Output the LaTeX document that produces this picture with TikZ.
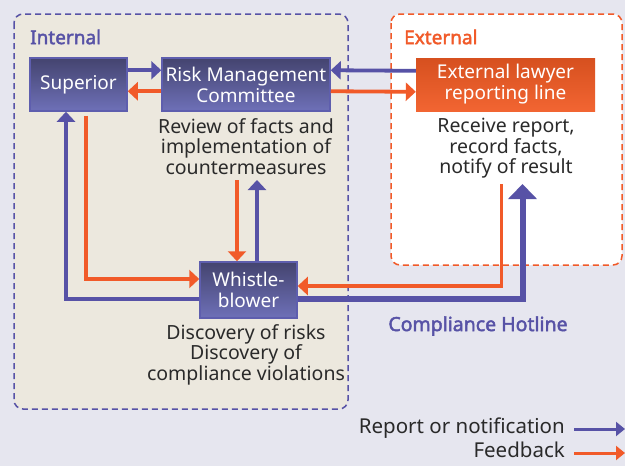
\documentclass[tikz,border=0pt]{standalone}
\usepackage{fontspec}
\setmainfont{Noto Sans}
\newfontfamily\lblfont{Noto Sans}[FakeBold=2.2]
\usetikzlibrary{arrows.meta,calc}
\definecolor{bg}{HTML}{E6E6EF}
\definecolor{intfill}{HTML}{ECE8DE}
\definecolor{pblue}{HTML}{5752A6}
\definecolor{porange}{HTML}{F15A29}
\definecolor{boxtop}{HTML}{44446F}
\definecolor{boxbot}{HTML}{6E70B8}
\definecolor{boxedge}{HTML}{5E5EAE}
\definecolor{extop}{HTML}{D6501F}
\definecolor{exbot}{HTML}{F26532}
\definecolor{txt}{HTML}{2A2A2A}
\tikzset{
  pbox/.style={draw=boxedge,line width=1.5pt,top color=boxtop,bottom color=boxbot,
    text=white,align=center,inner sep=0pt,font=\fontsize{19}{21}\selectfont},
  obox/.style={draw=none,top color=extop,bottom color=exbot,
    text=white,align=center,inner sep=0pt,font=\fontsize{19}{21}\selectfont},
  desc/.style={text=txt,align=center,inner sep=0pt,font=\fontsize{19.5}{20.5}\selectfont,anchor=north},
  grouplbl/.style={inner sep=0pt,anchor=west,font=\fontsize{19}{21}\lblfont},
  legtxt/.style={inner sep=0pt,anchor=east,text=txt,font=\fontsize{20.5}{22}\selectfont},
  barrow/.style={draw=pblue,line width=3.8pt,-{Triangle[width=18pt,length=10pt]}},
  oarrow/.style={draw=porange,line width=3.8pt,-{Triangle[width=18pt,length=10pt]}},
  hotarrow/.style={draw=pblue,line width=6pt,-{Triangle[width=28pt,length=15pt]}},
  region/.style={line width=1.5pt,dash pattern=on 6pt off 4pt,rounded corners=9pt},
}
\begin{document}
\begin{tikzpicture}[x=1pt,y=-1pt]
\fill[bg] (0,0) rectangle (625,466);
\useasboundingbox (0,0) rectangle (625,466);
% regions
\path[region,draw=pblue,fill=intfill] (14,14) rectangle (348,409);
\path[region,draw=porange,fill=white] (391,14) rectangle (622,265);
\node[grouplbl,text=pblue] (intl) at (30,37) {Internal};
\node[grouplbl,text=porange] (extl) at (404,37) {External};
% boxes
\node[pbox,minimum width=97pt,minimum height=53pt] (sup) at (78.5,84.5) {Superior};
\node[pbox,minimum width=168pt,minimum height=53pt] (rmc) at (246,84.5) {Risk Management\\Committee};
\node[obox,minimum width=179pt,minimum height=53pt] (law) at (505.5,84.5) {External lawyer\\reporting line};
\node[pbox,minimum width=97pt,minimum height=56pt] (wb) at (248.5,290) {Whistle-\\blower};
% descriptions
\node[desc] (rmcd) at (246,118) {Review of facts and\\implementation of\\countermeasures};
\node[desc] (lawd) at (506,118) {Receive report,\\record facts,\\notify of result};
\node[desc] (wbd) at (246,324) {Discovery of risks\\Discovery of\\compliance violations};
\node[inner sep=0pt,text=pblue,font=\fontsize{19.5}{21}\lblfont] (hot) at (478,326) {Compliance Hotline};
% horizontal arrows top
\draw[barrow] ([yshift=-13pt]sup.north east) -- ([yshift=-13pt]rmc.north west);
\draw[oarrow] ([yshift=-34pt]rmc.north west) -- ([yshift=-34pt]sup.north east);
\draw[barrow] ([yshift=-13pt]law.north west) -- ([yshift=-13pt]rmc.north east);
\draw[oarrow] ([yshift=-34pt]rmc.north east) -- ([yshift=-34pt]law.north west);
% superior <-> whistleblower
\draw[oarrow] ([xshift=7.5pt,yshift=-4pt]sup.south) |- ([yshift=11pt]wb.west);
\draw[barrow] ([yshift=-9pt]wb.west) -| ([xshift=-12.5pt]sup.south);
% rmc <-> whistleblower
\coordinate (rmcA) at (237,180);
\coordinate (rmcB) at (257,180);
\draw[oarrow] (rmcA) -- (rmcA |- wb.north);
\draw[barrow] (rmcB |- wb.north) -- (rmcB);
% external <-> whistleblower
\coordinate (lawA) at (501.5,184);
\coordinate (lawB) at (522.5,184);
\draw[oarrow] (lawA) |- ([yshift=4pt]wb.east);
\draw[hotarrow] ([yshift=-9pt]wb.east) -| (lawB);
% legend
\node[legtxt] (lg1) at (565,428) {Report or notification};
\node[legtxt] (lg2) at (565,450) {Feedback};
\coordinate (lg1e) at (625,429);
\coordinate (lg2e) at (625,453);
\draw[draw=pblue,line width=3pt,-{Triangle[width=14pt,length=9pt]}] ([xshift=9pt]lg1.east |- lg1e) -- (lg1e);
\draw[draw=porange,line width=3pt,-{Triangle[width=14pt,length=9pt]}] ([xshift=9pt]lg2.east |- lg2e) -- (lg2e);
\end{tikzpicture}
\end{document}
